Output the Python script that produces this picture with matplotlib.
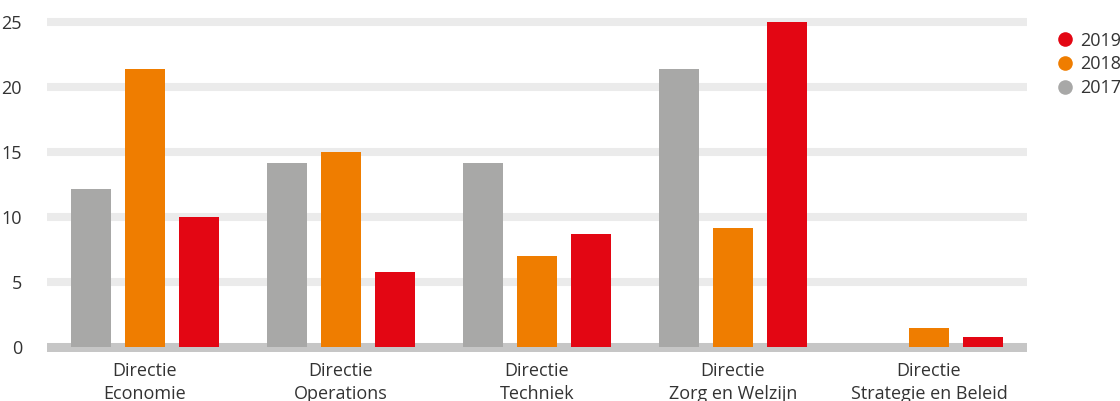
import matplotlib.pyplot as plt
import numpy as np
from matplotlib.lines import Line2D

# Data
categories = ['Directie\nEconomie', 'Directie\nOperations', 'Directie\nTechniek',
              'Directie\nZorg en Welzijn', 'Directie\nStrategie en Beleid']
years = ['2017', '2018', '2019']
v2017 = [12.2, 14.2, 14.2, 21.4, 0.0]
v2018 = [21.4, 15.0, 7.0, 9.2, 1.5]
v2019 = [10.0, 5.8, 8.7, 25.0, 0.8]
yticks = [0, 5, 10, 15, 20, 25]

colors = {'2017': '#a8a8a7', '2018': '#ef7d00', '2019': '#e30613'}
text_color = '#333333'

plt.rcParams['font.family'] = ['Open Sans', 'DejaVu Sans']

fig = plt.figure(figsize=(11.2, 4.01), dpi=100)
ax = fig.add_axes([47 / 1120, 0.1221, 980 / 1120, 0.8413])

x = np.arange(len(categories))
width = 0.204
step = 0.2755

# Grid bands behind the bars
for t in yticks[1:]:
    ax.axhline(t, color='#ebebeb', linewidth=5.8, zorder=0)
ax.axhline(0, color='#c6c6c6', linewidth=6.5, zorder=1)

for i, (yr, vals) in enumerate(zip(years, [v2017, v2018, v2019])):
    ax.bar(x + (i - 1) * step, vals, width=width, color=colors[yr], zorder=2)

ax.set_xlim(-0.5, len(categories) - 0.5)
ax.set_ylim(-0.35, 25.6)
ax.set_yticks(yticks)
ax.set_xticks(x)
ax.set_xticklabels(categories, linespacing=1.38)
ax.tick_params(axis='both', length=0, labelsize=13, colors=text_color)
ax.tick_params(axis='y', pad=18)
ax.tick_params(axis='x', pad=7)
for s in ax.spines.values():
    s.set_visible(False)

# Legend: newest year on top
handles = [Line2D([], [], linestyle='none', marker='o', markersize=10.5,
                  markerfacecolor=colors[yr], markeredgecolor='none') for yr in years[::-1]]
leg = fig.legend(handles, years[::-1], loc='upper left',
                 bbox_to_anchor=(1056 / 1120, 1 - 31.5 / 401), frameon=False,
                 borderpad=0, borderaxespad=0, handlelength=1.0, handletextpad=0.35,
                 labelspacing=0.33, fontsize=13)
for t in leg.get_texts():
    t.set_color(text_color)

fig.savefig('out.png', dpi=100)
